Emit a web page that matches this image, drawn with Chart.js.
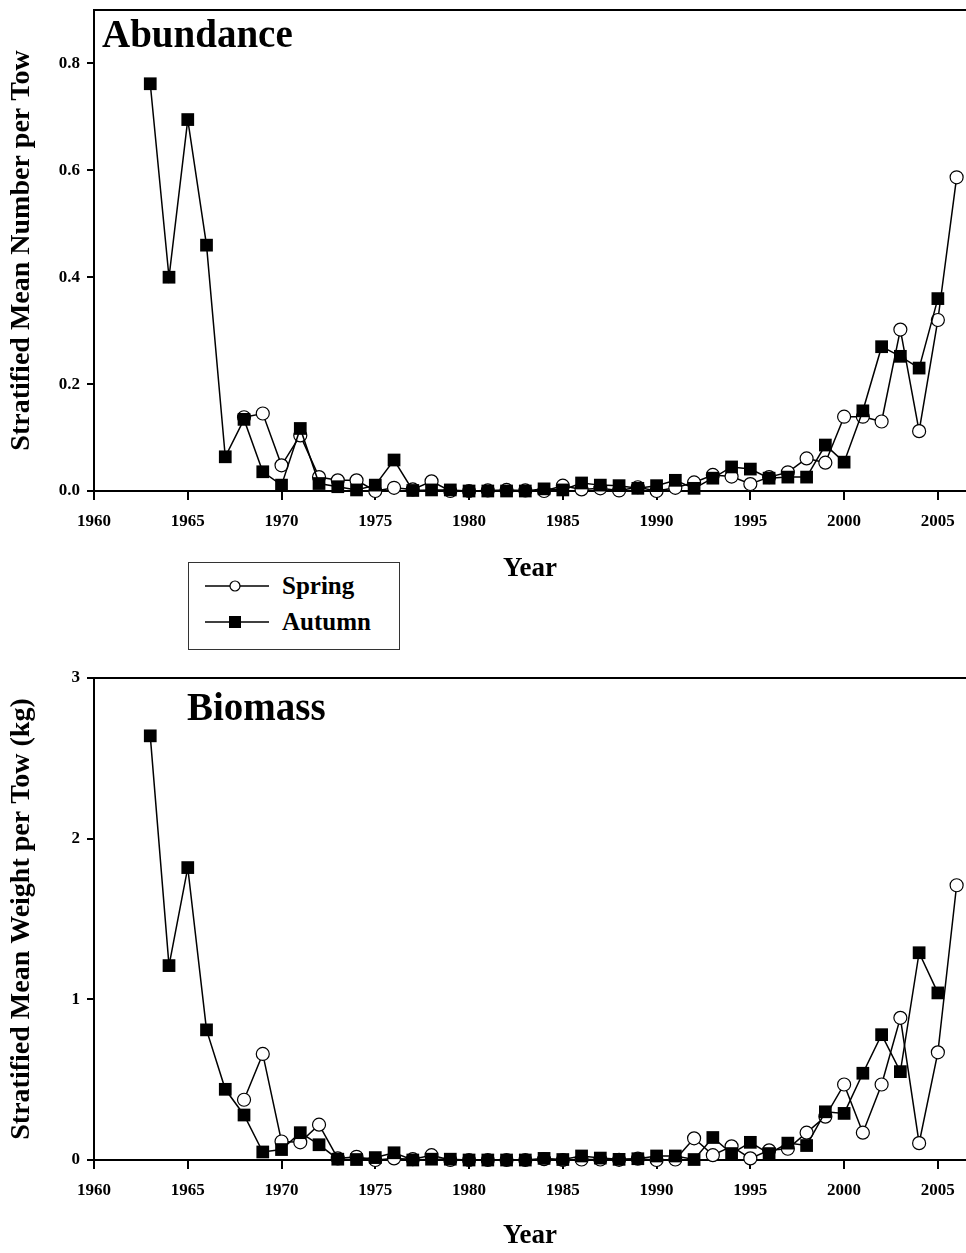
<!DOCTYPE html>
<html>
<head>
<meta charset="utf-8">
<script src="https://cdn.jsdelivr.net/npm/chart.js@4"></script>
<style>
  html, body { margin: 0; padding: 0; background: #fff; overflow: hidden; }
  #wrap { position: relative; width: 966px; height: 1253px; }
  #topChart { position: absolute; left: 0; top: 0; }
  #bottomChart { position: absolute; left: 0; top: 600px; }
  #legend {
    position: absolute; left: 188px; top: 562px; width: 212px; height: 88px;
    border: 1px solid #333; box-sizing: border-box; background: #fff;
    font-family: "Liberation Serif", "Times New Roman", serif; font-weight: bold; font-size: 25px;
  }
  #legend .row { position: absolute; left: 16px; height: 30px; display: flex; align-items: center; }
  #legend svg { margin-right: 13px; }
</style>
</head>
<body>
<div id="wrap">
  <canvas id="topChart" width="966" height="600"></canvas>
  <canvas id="bottomChart" width="966" height="650"></canvas>
  <div id="legend">
    <div class="row" style="top:8px">
      <svg width="64" height="14"><line x1="0" y1="7" x2="64" y2="7" stroke="#000" stroke-width="1.5"/><circle cx="30" cy="7" r="5" fill="#fff" stroke="#000" stroke-width="1.2"/></svg>
      <span>Spring</span>
    </div>
    <div class="row" style="top:44px">
      <svg width="64" height="14"><line x1="0" y1="7" x2="64" y2="7" stroke="#000" stroke-width="1.5"/><rect x="24" y="1" width="12" height="12" fill="#000"/></svg>
      <span>Autumn</span>
    </div>
  </div>
</div>
<script>
const years = [];
for (let y = 1963; y <= 2006; y++) years.push(y);

const abundanceAutumn = [0.762, 0.400, 0.695, 0.460, 0.064, 0.134, 0.036, 0.011, 0.117, 0.014,
    0.008, 0.002, 0.011, 0.058, 0.001, 0.002, 0.002, 0.000, 0.000, 0.000,
    0.000, 0.004, 0.002, 0.015, 0.011, 0.010, 0.005, 0.010, 0.020, 0.005,
    0.024, 0.045, 0.041, 0.024, 0.026, 0.026, 0.086, 0.054, 0.150, 0.270,
    0.252, 0.230, 0.360, null];
const abundanceSpring = [null, null, null, null, null, 0.138, 0.145, 0.048, 0.104, 0.026,
    0.020, 0.020, 0.000, 0.006, 0.003, 0.018, 0.000, 0.000, 0.001, 0.002,
    0.001, 0.000, 0.010, 0.003, 0.005, 0.001, 0.007, 0.000, 0.006, 0.016,
    0.030, 0.027, 0.013, 0.026, 0.035, 0.061, 0.053, 0.139, 0.139, 0.130,
    0.302, 0.112, 0.320, 0.587];

const biomassAutumn = [2.64, 1.21, 1.82, 0.81, 0.44, 0.28, 0.05, 0.065, 0.17, 0.095,
    0.005, 0.003, 0.015, 0.045, 0.000, 0.005, 0.005, 0.000, 0.000, 0.000,
    0.000, 0.010, 0.003, 0.025, 0.012, 0.004, 0.008, 0.025, 0.025, 0.003,
    0.14, 0.04, 0.11, 0.04, 0.105, 0.09, 0.30, 0.29, 0.54, 0.78,
    0.55, 1.29, 1.04, null];
const biomassSpring = [null, null, null, null, null, 0.375, 0.66, 0.115, 0.11, 0.22,
    0.01, 0.02, 0.000, 0.01, 0.005, 0.03, 0.000, 0.000, 0.000, 0.000,
    0.000, 0.005, 0.000, 0.003, 0.003, 0.001, 0.008, 0.000, 0.003, 0.135,
    0.03, 0.085, 0.01, 0.06, 0.07, 0.17, 0.27, 0.47, 0.17, 0.47,
    0.885, 0.105, 0.67, 1.71];

const xTicks = [1960, 1965, 1970, 1975, 1980, 1985, 1990, 1995, 2000, 2005];
const abundanceTicks = [0, 0.2, 0.4, 0.6, 0.8];
const biomassTicks = [0, 1, 2, 3];

const serif = '"Liberation Serif", "Times New Roman", serif';

function pairs(vals) {
    return years.map((yr, i) => ({ x: yr, y: vals[i] }));
}

// top frame line + panel label inside the plot
const framePlugin = {
    id: 'frame',
    afterDraw(chart, args, opts) {
        const { ctx, chartArea } = chart;
        ctx.save();
        ctx.strokeStyle = '#000';
        ctx.lineWidth = 2;
        ctx.beginPath();
        ctx.moveTo(chartArea.left, chartArea.top);
        ctx.lineTo(chartArea.right, chartArea.top);
        ctx.stroke();
        ctx.fillStyle = '#000';
        ctx.font = 'bold 39px ' + serif;
        ctx.textBaseline = 'alphabetic';
        ctx.fillText(opts.label, opts.x, opts.y);
        ctx.restore();
    }
};

function makeChart(id, spring, autumn, yMax, yTicks, yFmt, yTitle, xHeight, padTop, titlePad, label) {
    new Chart(document.getElementById(id).getContext('2d'), {
        type: 'line',
        data: {
            datasets: [{
                label: 'Autumn',
                data: pairs(autumn),
                borderColor: '#000',
                borderWidth: 1.5,
                backgroundColor: '#000',
                pointStyle: 'rect',
                pointRadius: 9,
                pointBorderWidth: 0,
                tension: 0,
                clip: false
            }, {
                label: 'Spring',
                data: pairs(spring),
                borderColor: '#000',
                borderWidth: 1.5,
                backgroundColor: '#fff',
                pointStyle: 'circle',
                pointRadius: 6.5,
                pointBorderWidth: 1.2,
                tension: 0,
                clip: false
            }]
        },
        options: {
            responsive: false,
            animation: false,
            layout: { autoPadding: false, padding: { top: padTop, left: 0, right: 0, bottom: 0 } },
            plugins: {
                legend: { display: false },
                tooltip: { enabled: false },
                frame: label
            },
            scales: {
                x: {
                    type: 'linear',
                    min: 1960,
                    max: 2006.5,
                    afterBuildTicks: s => { s.ticks = xTicks.map(v => ({ value: v })); },
                    afterFit: s => { s.height = xHeight; s.paddingLeft = 0; s.paddingRight = 0; },
                    grid: { drawOnChartArea: false, color: '#000', lineWidth: 2, tickLength: 9 },
                    border: { color: '#000', width: 2 },
                    ticks: {
                        color: '#000', padding: 11, maxRotation: 0,
                        font: { family: serif, weight: 'bold', size: 17 },
                        callback: v => String(v)
                    },
                    title: {
                        display: true, text: 'Year', color: '#000',
                        font: { family: serif, weight: 'bold', size: 27, lineHeight: 1 },
                        padding: { top: 0, bottom: titlePad }
                    }
                },
                y: {
                    min: 0,
                    max: yMax,
                    afterBuildTicks: s => { s.ticks = yTicks.map(v => ({ value: v })); },
                    afterFit: s => { s.width = 94; s.paddingTop = 0; s.paddingBottom = 0; },
                    grid: { drawOnChartArea: false, color: '#000', lineWidth: 2, tickLength: 7 },
                    border: { color: '#000', width: 2 },
                    ticks: {
                        color: '#000', padding: 7,
                        font: { family: serif, weight: 'bold', size: 17 },
                        callback: yFmt
                    },
                    title: {
                        display: true, text: yTitle, color: '#000',
                        font: { family: serif, weight: 'bold', size: 28, lineHeight: 1 },
                        padding: { top: 8, bottom: 0 }
                    }
                }
            }
        },
        plugins: [framePlugin]
    });
}

makeChart('topChart', abundanceSpring, abundanceAutumn, 0.9, abundanceTicks,
    v => v.toFixed(1), 'Stratified Mean Number per Tow', 109, 10, 17,
    { label: 'Abundance', x: 102, y: 47 });

makeChart('bottomChart', biomassSpring, biomassAutumn, 3, biomassTicks,
    v => String(v), 'Stratified Mean Weight per Tow (kg)', 90, 78, 0,
    { label: 'Biomass', x: 187, y: 120 });
</script>
</body>
</html>
